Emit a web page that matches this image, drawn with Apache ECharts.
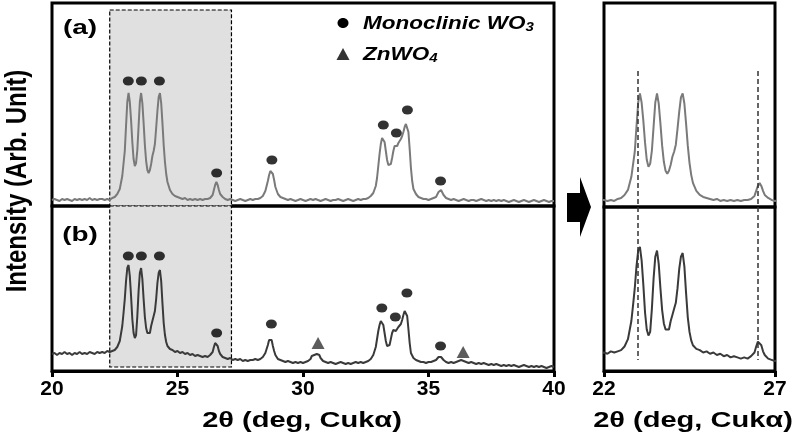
<!DOCTYPE html>
<html><head><meta charset="utf-8">
<script src="https://cdn.jsdelivr.net/npm/echarts@6/dist/echarts.min.js"></script>
<style>html,body{margin:0;padding:0;background:#fff}#c{width:800px;height:435px}</style>
</head><body><div id="c"></div>
<script>
// ---------- DATA (2θ in degrees, intensity in arbitrary units) ----------
const patternA = [
[20.0,6],[20.1,7],[20.2,6],[20.3,5],[20.4,7],[20.5,6],[20.6,7],[20.7,6],[20.8,5],[20.9,7],
[21.0,6],[21.1,7],[21.2,6],[21.3,7],[21.4,6],[21.5,8],[21.6,6],[21.7,7],[21.8,6],[21.9,7],
[22.0,7],[22.1,6],[22.2,7],[22.3,6],[22.4,8],[22.5,9],[22.6,12],[22.7,17],[22.8,30],[22.9,55],
[22.95,80],[23.0,104],[23.05,113],[23.1,104],[23.15,86],[23.2,64],[23.25,47],[23.3,40],[23.35,43],[23.4,56],
[23.45,80],[23.5,104],[23.55,113],[23.6,103],[23.65,83],[23.7,61],[23.75,45],[23.8,36],[23.85,33],[23.9,36],
[23.95,42],[24.0,50],[24.05,55],[24.1,62],[24.15,78],[24.2,95],[24.25,109],[24.3,113],[24.35,103],[24.4,83],
[24.45,61],[24.5,44],[24.55,32],[24.6,24],[24.7,16],[24.8,12],[24.9,10],[25.0,9],[25.1,8],[25.2,7],
[25.3,8],[25.4,6],[25.5,7],[25.6,6],[25.7,7],[25.8,6],[25.9,7],[26.0,6],[26.1,7],[26.2,7],
[26.3,8],[26.4,11],[26.45,16],[26.5,21],[26.55,24],[26.6,21],[26.65,16],[26.7,12],[26.8,9],[26.9,7],
[27.0,6],[27.1,7],[27.2,6],[27.3,5],[27.4,6],[27.5,7],[27.6,6],[27.7,5],[27.8,6],[27.9,7],
[28.0,6],[28.1,7],[28.2,7],[28.3,8],[28.4,10],[28.5,15],[28.6,25],[28.65,31],[28.7,35],[28.75,36],
[28.8,32],[28.85,26],[28.9,19],[29.0,12],[29.1,9],[29.2,8],[29.3,7],[29.4,6],[29.5,7],[29.6,6],
[29.7,5],[29.8,6],[29.9,7],[30.0,6],[30.1,5],[30.2,6],[30.3,7],[30.4,6],[30.5,7],[30.6,6],
[30.7,5],[30.8,6],[30.9,7],[31.0,6],[31.1,5],[31.2,6],[31.3,6],[31.4,7],[31.5,6],[31.6,5],
[31.7,6],[31.8,7],[31.9,6],[32.0,5],[32.1,6],[32.2,7],[32.3,6],[32.4,7],[32.5,7],[32.6,8],
[32.7,10],[32.8,13],[32.9,20],[32.95,28],[33.0,40],[33.05,52],[33.1,62],[33.15,68],[33.2,69],[33.25,64],
[33.3,55],[33.35,46],[33.4,41],[33.45,39],[33.5,42],[33.55,48],[33.6,55],[33.65,60],[33.7,62],[33.75,60],
[33.8,63],[33.85,64],[33.9,67],[33.95,70],[34.0,74],[34.05,79],[34.1,82],[34.15,83],[34.2,74],[34.25,57],
[34.3,38],[34.35,25],[34.4,17],[34.5,12],[34.6,9],[34.7,8],[34.8,7],[34.9,7],[35.0,6],[35.1,7],
[35.2,8],[35.3,9],[35.35,11],[35.4,14],[35.45,16],[35.5,16],[35.55,14],[35.6,11],[35.7,8],[35.8,7],
[35.9,6],[36.0,7],[36.1,6],[36.2,5],[36.3,6],[36.4,7],[36.5,6],[36.6,5],[36.7,6],[36.8,6],
[36.9,5],[37.0,6],[37.1,7],[37.2,6],[37.3,5],[37.4,6],[37.5,5],[37.6,6],[37.7,5],[37.8,6],
[37.9,5],[38.0,6],[38.1,5],[38.2,4],[38.3,5],[38.4,6],[38.5,5],[38.6,4],[38.7,5],[38.8,6],
[38.9,5],[39.0,4],[39.1,5],[39.2,6],[39.3,5],[39.4,4],[39.5,5],[39.6,6],[39.7,5],[39.8,4],
[39.9,5],[40.0,5]
];
const patternB = [
[20.0,17],[20.1,18],[20.2,16],[20.3,18],[20.4,17],[20.5,19],[20.6,17],[20.7,18],[20.8,16],[20.9,18],
[21.0,17],[21.1,19],[21.2,17],[21.3,18],[21.4,17],[21.5,19],[21.6,18],[21.7,17],[21.8,19],[21.9,18],
[22.0,19],[22.1,18],[22.2,20],[22.3,19],[22.4,20],[22.5,21],[22.6,24],[22.7,30],[22.8,45],[22.85,58],
[22.9,72],[22.95,90],[23.0,103],[23.05,106],[23.1,95],[23.15,75],[23.2,52],[23.25,38],[23.3,33],[23.35,36],
[23.4,55],[23.45,80],[23.5,98],[23.55,103],[23.6,92],[23.65,72],[23.7,54],[23.75,43],[23.8,38],[23.85,37],
[23.9,38],[23.95,45],[24.0,50],[24.05,55],[24.1,60],[24.15,72],[24.2,88],[24.25,98],[24.3,101],[24.35,90],
[24.4,68],[24.45,48],[24.5,36],[24.55,29],[24.6,25],[24.7,22],[24.8,21],[24.9,19],[25.0,20],[25.1,18],
[25.2,19],[25.3,17],[25.4,18],[25.5,16],[25.6,17],[25.7,15],[25.8,16],[25.9,15],[26.0,14],[26.1,15],
[26.2,14],[26.3,16],[26.4,19],[26.45,24],[26.5,28],[26.55,29],[26.6,25],[26.65,20],[26.7,17],[26.8,14],
[26.9,13],[27.0,12],[27.1,13],[27.2,11],[27.3,12],[27.4,11],[27.5,12],[27.6,10],[27.7,11],[27.8,10],
[27.9,11],[28.0,11],[28.1,12],[28.2,11],[28.3,12],[28.4,14],[28.5,18],[28.6,26],[28.65,31],[28.7,33],
[28.75,31],[28.8,25],[28.85,20],[28.9,16],[29.0,12],[29.1,11],[29.2,10],[29.3,9],[29.4,10],[29.5,9],
[29.6,8],[29.7,9],[29.8,8],[29.9,9],[30.0,8],[30.1,9],[30.2,10],[30.3,12],[30.35,15],[30.4,17],
[30.45,16],[30.5,14],[30.55,17],[30.6,18],[30.65,16],[30.7,13],[30.8,10],[30.9,9],[31.0,8],[31.1,9],
[31.2,8],[31.3,7],[31.4,8],[31.5,9],[31.6,8],[31.7,7],[31.8,8],[31.9,7],[32.0,8],[32.1,9],
[32.2,8],[32.3,9],[32.4,8],[32.5,9],[32.6,10],[32.7,12],[32.8,16],[32.9,24],[32.95,32],[33.0,40],
[33.05,46],[33.1,50],[33.15,51],[33.2,46],[33.25,38],[33.3,30],[33.35,25],[33.4,23],[33.45,26],[33.5,32],
[33.55,38],[33.6,41],[33.65,43],[33.7,40],[33.75,42],[33.8,44],[33.85,43],[33.9,47],[33.95,51],[34.0,56],
[34.05,60],[34.1,61],[34.15,55],[34.2,42],[34.25,28],[34.3,18],[34.4,13],[34.5,11],[34.6,10],[34.7,9],
[34.8,9],[34.9,8],[35.0,9],[35.1,9],[35.2,10],[35.3,11],[35.35,13],[35.4,14],[35.45,15],[35.5,14],
[35.55,13],[35.6,11],[35.7,9],[35.8,8],[35.9,9],[36.0,8],[36.1,9],[36.2,10],[36.3,11],[36.4,10],
[36.5,9],[36.6,8],[36.7,9],[36.8,8],[36.9,7],[37.0,8],[37.1,7],[37.2,8],[37.3,7],[37.4,6],
[37.5,7],[37.6,6],[37.7,7],[37.8,6],[37.9,5],[38.0,6],[38.1,5],[38.2,6],[38.3,5],[38.4,6],
[38.5,5],[38.6,4],[38.7,5],[38.8,6],[38.9,5],[39.0,4],[39.1,5],[39.2,4],[39.3,5],[39.4,4],
[39.5,5],[39.6,4],[39.7,3],[39.8,4],[39.9,5],[40.0,4]
];
// peak markers [2θ, marker height]
const wo3MarkersA = [[23.04,125],[23.56,125],[24.28,125],[26.56,33],[28.76,46],[33.2,81],[33.72,73],[34.16,96],[35.48,25]];
const wo3MarkersB = [[23.04,115],[23.56,115],[24.28,115],[26.56,38],[28.74,47],[33.14,63],[33.68,54],[34.14,78],[35.48,25]];
const znwo4MarkersB = [[30.6,28],[36.38,19]];
const mainTicks = [20, 25, 30, 35, 40];
const zoomTicks = [22, 27];
const zoomRefLines = [23.0, 26.5];
const shadedRange = [22.3, 27.15];
const panelLabels = ['(a)', '(b)'];
const legendNames = ['Monoclinic WO3', 'ZnWO4'];
const xAxisTitle = '2θ (deg, Cukα)';
const yAxisTitle = 'Intensity (Arb. Unit)';

// ---------- CHART ----------
const FONT = '"Liberation Sans", Arial, sans-serif';
const colA = '#7a7a7a', colB = '#3a3a3a';
const chart = echarts.init(document.getElementById('c'), null, {renderer: 'canvas'});
const gridBase = {show: true, borderColor: '#000', borderWidth: 3, backgroundColor: 'transparent', containLabel: false};
const hiddenY = (min, max) => ({type: 'value', min, max, show: false});
const hiddenX = (min, max) => ({type: 'value', min, max, show: false});
const lineS = (data, xi, yi, color, extra) => Object.assign({
  type: 'line', data, xAxisIndex: xi, yAxisIndex: yi, showSymbol: false, symbol: 'none',
  lineStyle: {color, width: 2}, itemStyle: {color}, z: 3, silent: true, animation: false, clip: true
}, extra || {});
const dashLine = {color: '#333', width: 1.5, type: [5, 3]};
const areaStyle = {color: '#e0e0e0', borderColor: '#000', borderWidth: 1.2, borderType: [4, 2]};
const dotSymbol = 'path://M0,5a5,5 0 1,0 10,0a5,5 0 1,0 -10,0';
const tickLabel = {show: true, color: '#000', fontSize: 21, fontWeight: 'bold', fontFamily: FONT, margin: 8,
  alignMinLabel: 'center', alignMaxLabel: 'center'};

const option = {
  animation: false,
  backgroundColor: '#fff',
  textStyle: {fontFamily: FONT},
  grid: [
    Object.assign({left: 52, width: 502, top: 3, height: 203}, gridBase),
    Object.assign({left: 52, width: 502, top: 206, height: 165}, gridBase),
    Object.assign({left: 604, width: 171, top: 3, height: 204}, gridBase),
    Object.assign({left: 604, width: 171, top: 207, height: 164}, gridBase)
  ],
  xAxis: [
    Object.assign(hiddenX(20, 40), {gridIndex: 0}),
    {type: 'value', gridIndex: 1, min: 20, max: 40, interval: 5,
      axisLine: {show: true, onZero: false, lineStyle: {color: '#000', width: 3}},
      axisTick: {show: true, inside: false, length: 6, lineStyle: {color: '#000', width: 3}},
      axisLabel: Object.assign({customValues: mainTicks}, tickLabel),
      splitLine: {show: false}},
    Object.assign(hiddenX(22, 27), {gridIndex: 2}),
    {type: 'value', gridIndex: 3, min: 22, max: 27,
      axisLine: {show: true, onZero: false, lineStyle: {color: '#000', width: 3}},
      axisTick: {show: true, inside: false, length: 6, lineStyle: {color: '#000', width: 3}, customValues: zoomTicks},
      axisLabel: Object.assign({customValues: zoomTicks}, tickLabel),
      splitLine: {show: false}}
  ],
  yAxis: [
    Object.assign(hiddenY(0, 203), {gridIndex: 0}),
    Object.assign(hiddenY(0, 165), {gridIndex: 1}),
    Object.assign(hiddenY(0, 203), {gridIndex: 2}),
    Object.assign(hiddenY(3.8, 138.9), {gridIndex: 3})
  ],
  series: [
    lineS(patternA, 0, 0, colA, {markArea: {silent: true, itemStyle: areaStyle,
      data: [[{coord: [shadedRange[0], 196]}, {coord: [shadedRange[1], 0]}]]}}),
    lineS(patternB, 1, 1, colB, {markArea: {silent: true, itemStyle: areaStyle,
      data: [[{coord: [shadedRange[0], 165]}, {coord: [shadedRange[1], 4]}]]}}),
    lineS(patternA, 2, 2, colA, {markLine: {silent: true, symbol: ['none', 'none'], label: {show: false}, lineStyle: dashLine,
      data: zoomRefLines.map(v => [{coord: [v, 135.3]}, {coord: [v, 0]}])}}),
    lineS(patternB, 3, 3, colB, {markLine: {silent: true, symbol: ['none', 'none'], label: {show: false}, lineStyle: dashLine,
      data: zoomRefLines.map(v => [{coord: [v, 138.9]}, {coord: [v, 12.9]}])}}),
    {type: 'scatter', name: legendNames[0], xAxisIndex: 0, yAxisIndex: 0, data: wo3MarkersA,
      symbol: dotSymbol, symbolSize: [11, 9], itemStyle: {color: '#000'}, z: 4, silent: true},
    {type: 'scatter', name: legendNames[0], xAxisIndex: 1, yAxisIndex: 1, data: wo3MarkersB,
      symbol: dotSymbol, symbolSize: [11, 9], itemStyle: {color: '#000'}, z: 4, silent: true},
    {type: 'scatter', name: legendNames[1], xAxisIndex: 1, yAxisIndex: 1, data: znwo4MarkersB,
      symbol: 'triangle', symbolSize: [13, 12], itemStyle: {color: '#333'}, z: 4, silent: true}
  ],
  graphic: [
    // legend
    {type: 'ellipse', shape: {cx: 343, cy: 23, rx: 5.5, ry: 5}, style: {fill: '#000'}, silent: true},
    {type: 'polygon', shape: {points: [[336.5, 60], [349.5, 60], [343, 48]]}, style: {fill: '#333'}, silent: true},
    {type: 'text', x: 363, y: 24, scaleX: 1.25, silent: true,
      style: {text: 'Monoclinic WO{sub|3}', fontSize: 18, fontWeight: 'bold', fontStyle: 'italic', fontFamily: FONT,
        fill: '#000', align: 'left', verticalAlign: 'middle',
        rich: {sub: {fontSize: 12, fontWeight: 'bold', fontStyle: 'italic', fontFamily: FONT, fill: '#000', verticalAlign: 'bottom', padding: [7, 0, 0, 0]}}}},
    {type: 'text', x: 363, y: 55, scaleX: 1.25, silent: true,
      style: {text: 'ZnWO{sub|4}', fontSize: 18, fontWeight: 'bold', fontStyle: 'italic', fontFamily: FONT,
        fill: '#000', align: 'left', verticalAlign: 'middle',
        rich: {sub: {fontSize: 12, fontWeight: 'bold', fontStyle: 'italic', fontFamily: FONT, fill: '#000', verticalAlign: 'bottom', padding: [7, 0, 0, 0]}}}},
    // panel labels
    {type: 'text', x: 80, y: 28, scaleX: 1.33, silent: true,
      style: {text: panelLabels[0], fontSize: 21, fontWeight: 'bold', fontFamily: FONT, fill: '#000', align: 'center', verticalAlign: 'middle'}},
    {type: 'text', x: 80, y: 235, scaleX: 1.33, silent: true,
      style: {text: panelLabels[1], fontSize: 21, fontWeight: 'bold', fontFamily: FONT, fill: '#000', align: 'center', verticalAlign: 'middle'}},
    // axis titles
    {type: 'text', x: 302, y: 421, scaleX: 1.32, silent: true,
      style: {text: xAxisTitle, fontSize: 22, fontWeight: 'bold', fontFamily: FONT, fill: '#000', align: 'center', verticalAlign: 'middle'}},
    {type: 'text', x: 693, y: 421, scaleX: 1.32, silent: true,
      style: {text: xAxisTitle, fontSize: 22, fontWeight: 'bold', fontFamily: FONT, fill: '#000', align: 'center', verticalAlign: 'middle'}},
    {type: 'text', x: 18, y: 181, rotation: Math.PI / 2, scaleY: 1.25, silent: true,
      style: {text: yAxisTitle, fontSize: 24, fontWeight: 'bold', fontFamily: FONT, fill: '#000', align: 'center', verticalAlign: 'middle'}},
    // arrow
    {type: 'polygon', silent: true, shape: {points: [[567, 193], [580, 193], [580, 177], [591, 207], [580, 237], [580, 222], [567, 222]]},
      style: {fill: '#000'}}
  ]
};
chart.setOption(option);
</script>
</body></html>
